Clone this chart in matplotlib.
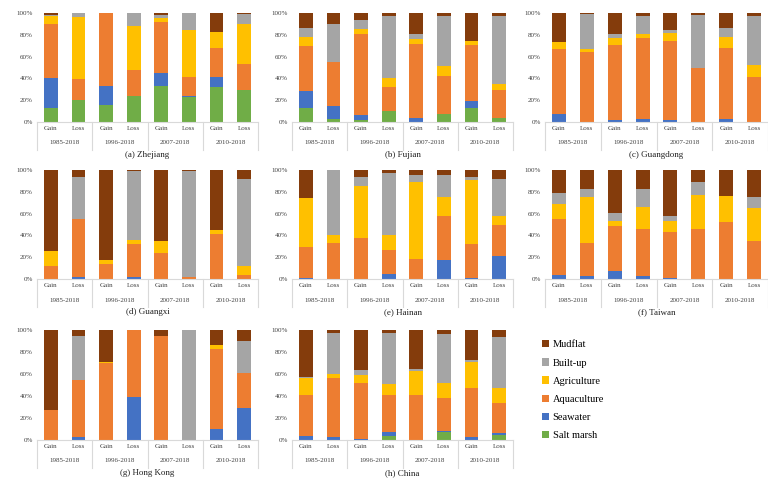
"""Land-cover gain/loss composition per region, 100% stacked bars."""
import matplotlib
matplotlib.use("Agg")
import matplotlib.pyplot as plt
import matplotlib.transforms as mtransforms
import numpy as np

plt.rcParams["font.family"] = ["Liberation Serif", "DejaVu Serif"]

# stacking order bottom -> top
classes = ["Salt marsh", "Seawater", "Aquaculture", "Agriculture", "Built-up", "Mudflat"]
colors = ["#70AD47", "#4472C4", "#ED7D31", "#FFC000", "#A5A5A5", "#843C0C"]
periods = ["1985-2018", "1996-2018", "2007-2018", "2010-2018"]
kinds = ["Gain", "Loss"]

# rows = bars (period x Gain/Loss), cols = classes (percent)
zhejiang = [[13, 27, 50, 7, 1, 2], [20, 0, 19, 57, 4, 0],
            [16, 17, 67, 0, 0, 0], [24, 0, 24, 40, 12, 0],
            [33, 12, 47, 3, 3, 2], [23, 1, 17, 43, 16, 0],
            [32, 9, 27, 15, 0, 17], [29, 0, 24, 37, 9, 1]]
fujian = [[13, 15, 42, 8, 8, 14], [3, 12, 40, 0, 35, 10],
          [2, 4, 75, 4, 9, 6], [10, 0, 22, 8, 57, 3],
          [0, 4, 68, 4, 5, 19], [7, 0, 35, 9, 46, 3],
          [13, 6, 52, 3, 0, 26], [4, 0, 25, 6, 62, 3]]
guangdong = [[0, 7, 60, 6, 0, 27], [0, 0, 64, 3, 32, 1],
             [0, 2, 69, 6, 4, 19], [0, 3, 74, 4, 16, 3],
             [0, 2, 72, 8, 2, 16], [0, 0, 50, 0, 48, 2],
             [0, 3, 65, 10, 8, 14], [0, 0, 41, 11, 45, 3]]
guangxi = [[0, 0, 12, 14, 0, 74], [0, 2, 53, 0, 39, 6],
           [0, 0, 14, 3, 0, 83], [0, 2, 30, 4, 63, 1],
           [0, 0, 24, 11, 0, 65], [0, 0, 2, 0, 97, 1],
           [0, 0, 41, 4, 0, 55], [0, 0, 4, 8, 80, 8]]
hainan = [[0, 1, 28, 45, 0, 26], [0, 0, 33, 7, 60, 0],
          [0, 0, 38, 47, 9, 6], [0, 5, 22, 13, 57, 3],
          [0, 0, 18, 71, 6, 5], [0, 17, 41, 17, 20, 5],
          [0, 1, 31, 59, 3, 6], [0, 21, 29, 8, 34, 8]]
taiwan = [[0, 4, 51, 14, 10, 21], [0, 3, 30, 42, 8, 17],
          [0, 7, 42, 4, 8, 39], [0, 3, 43, 20, 17, 17],
          [0, 1, 42, 10, 5, 42], [0, 0, 46, 31, 12, 11],
          [0, 0, 52, 24, 0, 24], [0, 0, 35, 30, 10, 25]]
hongkong = [[0, 0, 27, 0, 0, 73], [0, 3, 52, 0, 39.5, 5.5],
            [0, 0, 70, 1, 0, 29], [0, 39, 61, 0, 0, 0],
            [0, 0, 94.5, 0, 0, 5.5], [0, 0, 0, 0, 100, 0],
            [0, 10, 73, 3, 0, 14], [0, 29, 32, 0, 29, 10]]
china = [[0, 4, 37, 15, 1, 43], [0, 3, 53, 4, 37, 3],
         [0, 1, 51, 7, 5, 36], [4, 3, 34, 10, 46, 3],
         [0, 0, 41, 22, 2, 35], [7, 1, 30, 14, 44, 4],
         [0, 3, 44, 24, 2, 27], [5, 1, 28, 13, 47, 6]]

panels = [("(a) Zhejiang", zhejiang), ("(b) Fujian", fujian),
          ("(c) Guangdong", guangdong), ("(d) Guangxi", guangxi),
          ("(e) Hainan", hainan), ("(f) Taiwan", taiwan),
          ("(g) Hong Kong", hongkong), ("(h) China", china)]

W, H = 768, 480
fig = plt.figure(figsize=(W / 100, H / 100), dpi=100)

col_x = [(37, 258), (292, 513), (545, 768)]
row_y = [(13, 122), (170, 279), (330, 440)]
line_c = "#D9D9D9"

for i, (title, data) in enumerate(panels):
    r, c = divmod(i, 3)
    x0, x1 = col_x[c]
    y0, y1 = row_y[r]
    ax = fig.add_axes([x0 / W, 1 - y1 / H, (x1 - x0) / W, (y1 - y0) / H])
    vals = np.array(data, dtype=float)
    vals = vals / vals.sum(axis=1, keepdims=True) * 100
    x = np.arange(len(vals))
    bottom = np.zeros(len(vals))
    for k in range(len(classes)):
        ax.bar(x, vals[:, k], 0.5, bottom=bottom, color=colors[k], label=classes[k])
        bottom += vals[:, k]
    ax.set_xlim(-0.5, len(vals) - 0.5)
    ax.set_ylim(0, 100)
    ax.set_yticks(range(0, 101, 20))
    ax.set_yticklabels([f"{v}%" for v in range(0, 101, 20)], fontsize=5, color="#404040")
    ax.set_xticks(x)
    ax.set_xticklabels(kinds * len(periods), fontsize=5, color="#404040")
    ax.tick_params(length=0, pad=3)
    for s in ["top", "right", "left"]:
        ax.spines[s].set_visible(False)
    ax.spines["bottom"].set_color(line_c)
    ax.spines["bottom"].set_linewidth(0.8)

    tr = mtransforms.blended_transform_factory(ax.transData, ax.transAxes)
    depth = 28 / (y1 - y0)
    for b in np.arange(-0.5, len(vals), 2):
        ax.plot([b, b], [0, -depth], transform=tr, color=line_c, lw=0.8, clip_on=False)
    for j, p in enumerate(periods):
        ax.text(2 * j + 0.5, -21 / (y1 - y0), p, transform=tr, ha="center", va="center",
                fontsize=5, color="#404040")
    ax.text(0.5, -33 / (y1 - y0), title, transform=ax.transAxes, ha="center", va="center",
            fontsize=6.5, color="#202020")

handles, labels = ax.get_legend_handles_labels()
fig.legend(handles[::-1], labels[::-1], loc="upper left", bbox_to_anchor=(538 / W, 1 - 336 / H),
           frameon=False, fontsize=7.5, handlelength=0.7, handleheight=0.7,
           handletextpad=0.3, labelspacing=0.85, borderaxespad=0)

fig.savefig("out.png", dpi=100)
